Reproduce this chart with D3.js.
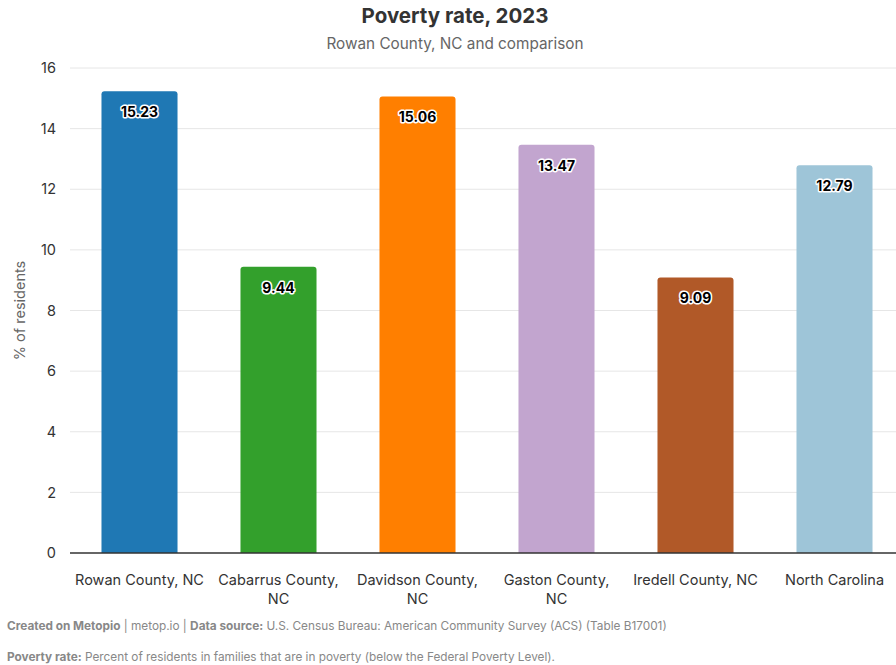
<!DOCTYPE html>
<html>
<head>
<meta charset="utf-8">
<script src="https://cdn.jsdelivr.net/npm/d3@7"></script>
<style>
  html, body { margin: 0; padding: 0; background: #fff; }
  svg { display: block; font-family: Inter, "Liberation Sans", sans-serif; }
</style>
</head>
<body>
<svg id="chart" width="896" height="665"></svg>
<script>
const categories = ["Rowan County, NC", "Cabarrus County, NC", "Davidson County, NC", "Gaston County, NC", "Iredell County, NC", "North Carolina"];
const categoryLines = [["Rowan County, NC"], ["Cabarrus County,", "NC"], ["Davidson County,", "NC"], ["Gaston County,", "NC"], ["Iredell County, NC"], ["North Carolina"]];
const values = [15.23, 9.44, 15.06, 13.47, 9.09, 12.79];
const barColors = ["#1f78b4", "#33a02c", "#ff7f00", "#c2a5cf", "#b15928", "#9ec5d8"];
const yTicks = [0, 2, 4, 6, 8, 10, 12, 14, 16];

const svg = d3.select("#chart");
const margin = { left: 70, right: -8, top: 68, bottom: 112 };
const W = 896, H = 665;

const x = d3.scaleBand().domain(categories).range([margin.left, W - margin.right]).paddingInner(0.453).paddingOuter(0.2265);
const y = d3.scaleLinear().domain([0, 16]).range([H - margin.bottom, margin.top]);

// Title and subtitle
svg.append("text").attr("x", 455).attr("y", 23).attr("text-anchor", "middle")
  .attr("font-size", 20.5).attr("font-weight", 700).attr("fill", "#333").text("Poverty rate, 2023");
svg.append("text").attr("x", 455).attr("y", 49).attr("text-anchor", "middle")
  .attr("font-size", 15.3).attr("fill", "#666").text("Rowan County, NC and comparison");

// Gridlines
svg.append("g").selectAll("line").data(yTicks.filter(d => d > 0)).join("line")
  .attr("x1", margin.left).attr("x2", W).attr("y1", d => y(d)).attr("y2", d => y(d))
  .attr("stroke", "#e6e6e6").attr("stroke-width", 1);

// Y axis tick labels
const yAxis = d3.axisLeft(y).tickValues(yTicks).tickSize(0).tickPadding(0);
const gy = svg.append("g").attr("transform", `translate(${margin.left - 14},0)`).call(yAxis);
gy.select(".domain").remove();
gy.selectAll("text").attr("font-size", 14.5).attr("fill", "#333").attr("font-family", "Inter, 'Liberation Sans', sans-serif");

// Y axis title
svg.append("text").attr("transform", `translate(25,${y(8)}) rotate(-90)`).attr("text-anchor", "middle")
  .attr("font-size", 14.5).attr("fill", "#666").text("% of residents");

// Bars with rounded tops
const r = 3;
svg.append("g").selectAll("path").data(values).join("path")
  .attr("fill", (d, i) => barColors[i])
  .attr("d", (d, i) => {
    const x0 = x(categories[i]), w = x.bandwidth(), yt = y(d), yb = y(0);
    return `M${x0},${yb}V${yt + r}Q${x0},${yt} ${x0 + r},${yt}H${x0 + w - r}Q${x0 + w},${yt} ${x0 + w},${yt + r}V${yb}Z`;
  });

// Baseline
svg.append("line").attr("x1", margin.left).attr("x2", W).attr("y1", y(0)).attr("y2", y(0))
  .attr("stroke", "#333").attr("stroke-width", 1.5);

// Value labels with halo
svg.append("g").selectAll("text").data(values).join("text")
  .attr("x", (d, i) => x(categories[i]) + x.bandwidth() / 2)
  .attr("y", d => y(d) + 26)
  .attr("text-anchor", "middle").attr("font-size", 14).attr("font-weight", 700)
  .attr("fill", "#000").attr("stroke", "#fff").attr("stroke-width", 3)
  .attr("stroke-linejoin", "round").attr("paint-order", "stroke")
  .text(d => d.toFixed(2));

// X category labels
const xl = svg.append("g").selectAll("text").data(categoryLines).join("text")
  .attr("x", (d, i) => x(categories[i]) + x.bandwidth() / 2)
  .attr("y", 585).attr("text-anchor", "middle").attr("font-size", 14.5).attr("fill", "#333");
xl.selectAll("tspan").data(d => d).join("tspan")
  .attr("x", function () { return d3.select(this.parentNode).attr("x"); })
  .attr("dy", (d, j) => j === 0 ? 0 : 19).text(d => d);

// Footer notes
const f1 = svg.append("text").attr("x", 7).attr("y", 630).attr("font-size", 11.8).attr("fill", "#888");
f1.append("tspan").attr("font-weight", 700).text("Created on Metopio");
f1.append("tspan").text(" | metop.io | ");
f1.append("tspan").attr("font-weight", 700).text("Data source:");
f1.append("tspan").text(" U.S. Census Bureau: American Community Survey (ACS) (Table B17001)");

const f2 = svg.append("text").attr("x", 7).attr("y", 661).attr("font-size", 11.8).attr("fill", "#888");
f2.append("tspan").attr("font-weight", 700).text("Poverty rate:");
f2.append("tspan").text(" Percent of residents in families that are in poverty (below the Federal Poverty Level).");
</script>
</body>
</html>
